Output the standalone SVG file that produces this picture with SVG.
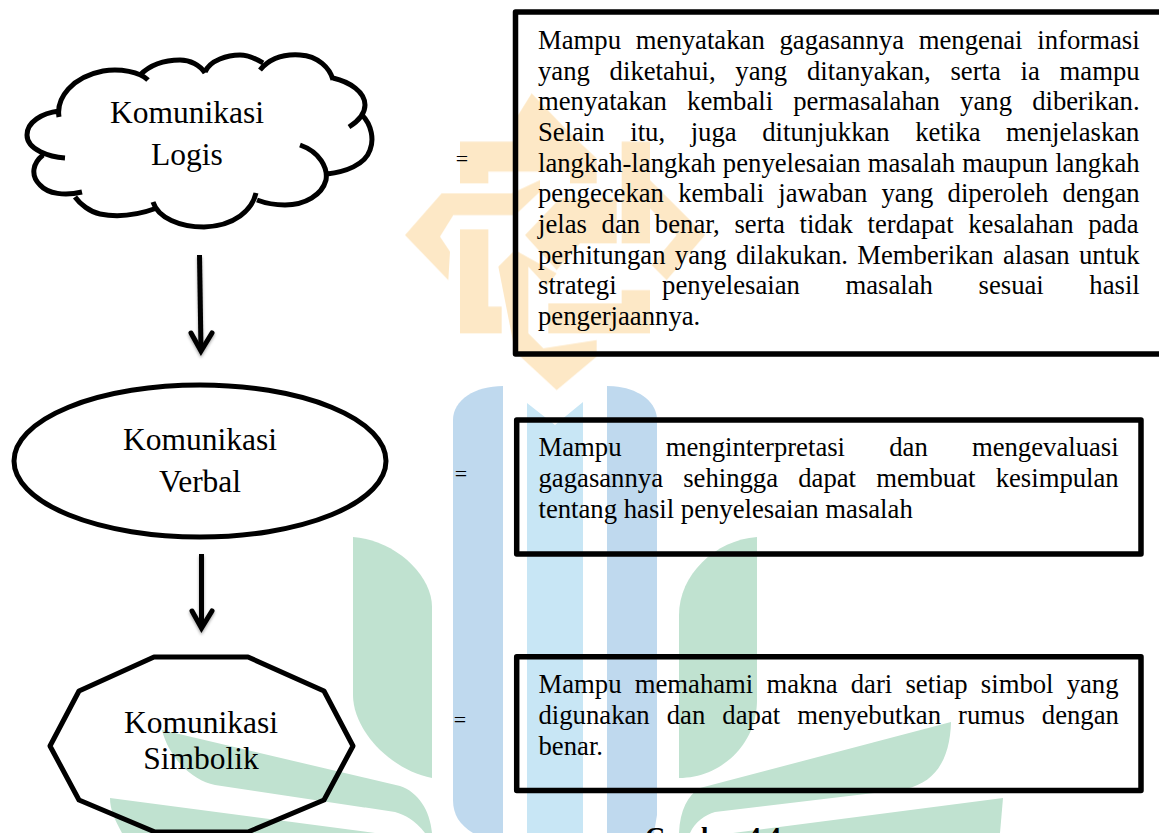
<svg xmlns="http://www.w3.org/2000/svg" width="1159" height="833" viewBox="0 0 1159 833">
<style>
text{font-family:"Liberation Serif","Times New Roman",serif;fill:#000}
.lbl{font-size:31.5px;text-anchor:middle}
.body{font-size:26.7px}
.eq{font-size:22px;text-anchor:middle}
.cap{font-size:26.7px;font-weight:bold}
.shape{fill:none;stroke:#000;stroke-width:5;stroke-linejoin:round}
.cloud{fill:none;stroke:#000;stroke-width:5;stroke-linecap:butt}
.box{fill:none;stroke:#000;stroke-width:5.5;stroke-linejoin:round}
.con{fill:none;stroke:#000;stroke-width:5}
.org{fill:#fde8c6}.blu{fill:#bfd9ee}.lbu{fill:#c8e6f5}.grn{fill:#c0e2d0}
#watermark{mix-blend-mode:multiply}
</style>
<defs>
<filter id="sh" x="-50%" y="-10%" width="200%" height="125%"><feDropShadow dx="0" dy="2" stdDeviation="1.5" flood-color="#000" flood-opacity=".35"/></filter>
</defs>
<rect width="1159" height="833" fill="#fff"/>

<g id="node-logis">
<path class="cloud" d="M65,158C50,157 27,150 27,135C27,122 42,113 59,111M59,117C56,98 72,77 103,71C120,68 140,72 148,80M140,75C150,65 165,60 180,60C190,60 200,65 205,73M205,72C210,60 228,55 240,55C250,55 258,60 263,63M260,70C270,58 285,54 300,55C318,56 330,68 333,80M333,78C350,82 365,92 365,105C365,112 360,120 349,127M362,115C372,125 374,140 370,150C365,165 345,172 327,174M300,145C320,152 328,168 326,180C322,195 305,205 285,205C275,205 265,203 257,200M256,193C252,210 235,226 204,227C180,227 158,218 153,202M157,208C135,216 115,217 100,214C90,212 80,204 75,197M82,192C65,196 48,194 40,185C30,175 33,163 43,155"/>
<text class="lbl" x="187" y="123">Komunikasi</text>
<text class="lbl" x="187" y="165">Logis</text>
</g>

<g id="node-verbal">
<ellipse class="shape" cx="200" cy="461" rx="186" ry="76"/>
<text class="lbl" x="200" y="450">Komunikasi</text>
<text class="lbl" x="200" y="492">Verbal</text>
</g>

<g id="node-simbolik">
<polygon class="shape" points="154,657 248,657 324,691 353,746 324,800 248,832 155,832 79,800 50,746 79,691"/>
<text class="lbl" x="201" y="733">Komunikasi</text>
<text class="lbl" x="201" y="769">Simbolik</text>
</g>

<g id="connectors" filter="url(#sh)">
<path class="con" d="M199.5,255L201,350"/>
<path class="con" d="M191,333L201,351L212,333" stroke-linecap="round"/>
<path class="con" d="M201.5,554V628"/>
<path class="con" d="M192,611L201.5,628L212,611" stroke-linecap="round"/>
</g>

<g id="eq-1"><text class="eq" x="462" y="166">=</text></g>
<g id="eq-2"><text class="eq" x="461" y="481">=</text></g>
<g id="eq-3"><text class="eq" x="460" y="727">=</text></g>

<g id="box-logis">
<rect class="box" x="515.5" y="12" width="660" height="342"/>
<text class="body" x="538" y="49" word-spacing="8.1">Mampu menyatakan gagasannya mengenai informasi</text>
<text class="body" x="538" y="79.7" word-spacing="13.07">yang diketahui, yang ditanyakan, serta ia mampu</text>
<text class="body" x="538" y="110.3" word-spacing="13.5">menyatakan kembali permasalahan yang diberikan.</text>
<text class="body" x="538" y="141" word-spacing="18.9">Selain itu, juga ditunjukkan ketika menjelaskan</text>
<text class="body" x="538" y="171.7" word-spacing="0.35">langkah-langkah penyelesaian masalah maupun langkah</text>
<text class="body" x="538" y="202.3" word-spacing="7.55">pengecekan kembali jawaban yang diperoleh dengan</text>
<text class="body" x="538" y="233" word-spacing="8.04">jelas dan benar, serta tidak terdapat kesalahan pada</text>
<text class="body" x="538" y="263.7" word-spacing="2.65">perhitungan yang dilakukan. Memberikan alasan untuk</text>
<text class="body" x="538" y="294.3" word-spacing="38.9">strategi penyelesaian masalah sesuai hasil</text>
<text class="body" x="538" y="325">pengerjaannya.</text>
</g>

<g id="box-verbal">
<rect class="box" x="516.7" y="420" width="624.3" height="134"/>
<text class="body" x="538.5" y="456" word-spacing="37.5">Mampu menginterpretasi dan mengevaluasi</text>
<text class="body" x="538.5" y="487" word-spacing="13.5">gagasannya sehingga dapat membuat kesimpulan</text>
<text class="body" x="538.5" y="518">tentang hasil penyelesaian masalah</text>
</g>

<g id="box-simbolik">
<rect class="box" x="516.7" y="656.7" width="624.3" height="133.8"/>
<text class="body" x="538.5" y="692.7" word-spacing="6.5">Mampu memahami makna dari setiap simbol yang</text>
<text class="body" x="538.5" y="724" word-spacing="10.4">digunakan dan dapat menyebutkan rumus dengan</text>
<text class="body" x="538.5" y="755">benar.</text>
</g>

<text class="cap" x="645" y="846">Gambar 4.4</text>

<g id="watermark">
<g transform="translate(400,70) scale(.33333)" class="org">
<polygon points="180,215 345,215 345,150 395,70 510,190 590,265 590,340 510,340 510,305 265,305 265,340 180,340"/>
<polygon points="665,215 750,215 750,330 915,495 800,630 755,585 830,495 750,415 750,520 665,520"/>
<polygon points="15,495 125,370 335,370 420,330 420,365 345,435 160,435 120,500 150,545 145,630"/>
<polygon points="375,495 480,385 650,385 650,520 540,520 470,600"/>
<polygon points="180,478 265,478 265,710 305,710 305,790 180,790"/>
<polygon points="295,590 345,540 470,610 440,650 385,590 385,790 430,835 590,810 590,860 470,960 345,845"/>
<polygon points="445,700 665,700 665,660 750,660 750,790 445,790"/>
</g>
<path class="blu" d="M453,420C453,400 475,386 503,386V833H473C460,825 453,815 453,800Z"/>
<path class="lbu" d="M527,403L555,425L583,402V833H527Z"/>
<path class="blu" d="M607,386C635,386 657,400 657,420V815L654,833H607Z"/>
<path class="grn" d="M353,537C395,540 432,575 432,607V778C390,770 353,730 353,695Z"/>
<path class="grn" d="M162,730L400,786C418,792 430,810 432,833H425C415,820 405,815 395,812L215,785C190,780 168,755 162,730Z"/>
<path class="grn" d="M110,798L375,833H122C115,820 110,810 110,798Z"/>
<path class="grn" d="M757,537V700C757,745 720,778 679,778V615C679,575 715,540 757,537Z"/>
<path class="grn" d="M951,722L700,788C688,795 680,810 679,833H690C695,822 705,815 715,812L900,790C935,785 950,760 951,722Z"/>
<path class="grn" d="M1003,798L733,833H1000Z"/>
</g>
</svg>
